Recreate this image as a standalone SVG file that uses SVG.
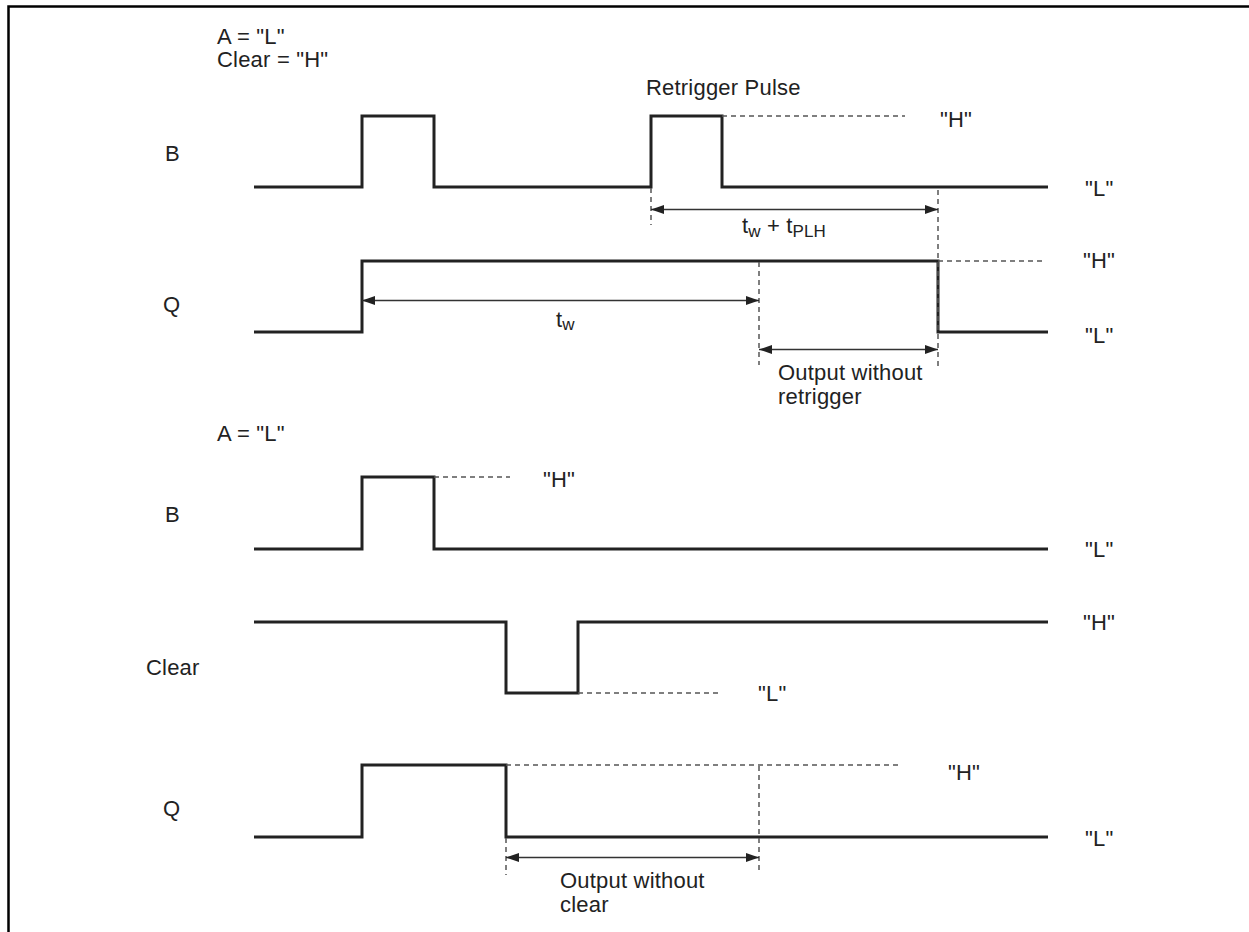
<svg xmlns="http://www.w3.org/2000/svg" width="1249" height="932" viewBox="0 0 1249 932">
<style>
text{font-family:"Liberation Sans",Arial,sans-serif;font-size:22px;letter-spacing:0.2px;fill:#222}
.sub{font-size:17px;letter-spacing:0}
.wave{fill:none;stroke:#222;stroke-width:3;stroke-linejoin:miter}
.dash{fill:none;stroke:#555;stroke-width:1.5;stroke-dasharray:5 4}
.dim{fill:none;stroke:#333;stroke-width:1.6;marker-start:url(#ah);marker-end:url(#ah)}
.frame{fill:none;stroke:#000;stroke-width:2.5}
</style>
<defs>
<marker id="ah" viewBox="0 0 13 9" refX="13" refY="4.5" markerWidth="13" markerHeight="9" markerUnits="userSpaceOnUse" orient="auto-start-reverse">
<path d="M0,0 L13,4.5 L0,9 Z" fill="#222"/>
</marker>
</defs>
<rect width="1249" height="932" fill="#fff"/>
<path class="frame" d="M8.5,932 V6.5 H1249"/>

<g id="cond1">
<text x="217" y="44">A = "L"</text>
<text x="217" y="67">Clear = "H"</text>
</g>
<g id="retrigger-label"><text x="646" y="95">Retrigger Pulse</text></g>

<g id="B1">
<text x="165" y="161">B</text>
<path class="wave" d="M254,187 H362 V116 H434 V187 H651 V116 H722 V187 H1048"/>
<text x="940" y="127">"H"</text>
<text x="1085" y="196">"L"</text>
</g>

<g id="Q1">
<text x="163" y="312">Q</text>
<path class="wave" d="M254,332 H362 V261 H938 V332 H1048"/>
<text x="1083" y="268">"H"</text>
<text x="1085" y="343">"L"</text>
</g>

<g id="cond2"><text x="217" y="441">A = "L"</text></g>

<g id="B2">
<text x="165" y="522">B</text>
<path class="wave" d="M254,549 H362 V477 H434 V549 H1048"/>
<text x="543" y="487">"H"</text>
<text x="1085" y="557">"L"</text>
</g>

<g id="Clear">
<text x="146" y="675">Clear</text>
<path class="wave" d="M254,622 H506 V693 H578 V622 H1048"/>
<text x="1083" y="630">"H"</text>
<text x="758" y="701">"L"</text>
</g>

<g id="Q2">
<text x="163" y="816">Q</text>
<path class="wave" d="M254,837 H362 V765 H506 V837 H1048"/>
<text x="948" y="780">"H"</text>
<text x="1085" y="846">"L"</text>
</g>

<g id="connectors">
<path class="dash" d="M722,116 H905"/>
<path class="dash" d="M651,188 V225"/>
<path class="dash" d="M938,190 V367"/>
<path class="dash" d="M938,261 H1045"/>
<path class="dash" d="M759,262 V365"/>
<path class="dash" d="M434,477 H510"/>
<path class="dash" d="M578,693 H722"/>
<path class="dash" d="M506,765 H900"/>
<path class="dash" d="M506,838 V875"/>
<path class="dash" d="M759,766 V871"/>
<path class="dim" d="M651,209.5 H938"/>
<path class="dim" d="M362,300.5 H759"/>
<path class="dim" d="M759,349.5 H938"/>
<path class="dim" d="M506,857.5 H759"/>
</g>

<g id="labels">
<text x="742" y="233">t<tspan class="sub" dy="4">w</tspan><tspan dy="-4"> + t</tspan><tspan class="sub" dy="4">PLH</tspan></text>
<text x="556" y="327">t<tspan class="sub" dy="3">w</tspan></text>
<text x="778" y="380">Output without</text>
<text x="778" y="404">retrigger</text>
<text x="560" y="888">Output without</text>
<text x="560" y="912">clear</text>
</g>
</svg>
